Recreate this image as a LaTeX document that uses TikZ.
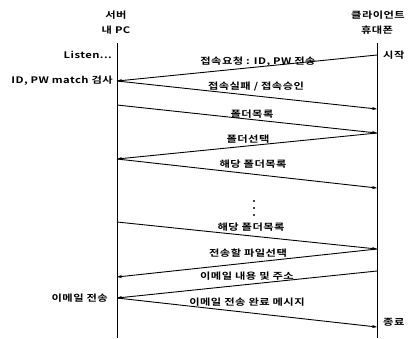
\documentclass[tikz,border=0pt]{standalone}
\usepackage{fontspec}
\setmainfont{Noto Sans CJK KR}[BoldFont={Noto Sans CJK KR Bold}]
\newfontfamily\kr{Noto Sans CJK KR Bold}[FakeStretch=1.25,LetterSpace=5]
\usetikzlibrary{arrows.meta}
\begin{document}
\begin{tikzpicture}[x=1pt,y=-1pt,
  lbl/.style={font=\kr\fontsize{9}{10}\selectfont, inner sep=0pt},
  life/.style={line width=1pt},
  msg/.style={line width=0.9pt,-{Stealth[length=5pt,width=3.2pt]}},
  dotm/.style={circle,fill=black,inner sep=0pt,minimum size=2.4pt}]
\useasboundingbox (0,0) rectangle (411,338);
% headers
\node[lbl] (srv) at (116,15) {서버};
\node[lbl] (pc) at (116,30) {내 PC};
\node[lbl] (cli) at (378,15) {클라이언트};
\node[lbl] (ph) at (377,30) {휴대폰};
% lifelines
\coordinate (L0) at (117,43);
\coordinate (L1) at (117,338);
\coordinate (R0) at (377,43);
\coordinate (R1) at (377,338);
\draw[life] (L0) -- (L1);
\draw[life] (R0) -- (R1);
% message points
\coordinate (r1) at (377,55);
\coordinate (l1) at (117,81);
\coordinate (r2) at (377,109);
\coordinate (l3) at (117,105);
\coordinate (r3) at (377,133);
\coordinate (l4) at (117,159);
\coordinate (r5) at (377,188);
\coordinate (l6) at (117,222);
\coordinate (r6) at (377,249);
\coordinate (l7) at (117,277);
\coordinate (r8) at (377,271);
\coordinate (l8) at (117,298);
\coordinate (r9) at (377,327);
\draw[msg] (r1) -- (l1);
\draw[msg] (l1) -- (r2);
\draw[msg] (l3) -- (r3);
\draw[msg] (r3) -- (l4);
\draw[msg] (l4) -- (r5);
\draw[msg] (l6) -- (r6);
\draw[msg] (r6) -- (l7);
\draw[msg] (r8) -- (l8);
\draw[msg] (l8) -- (r9);
% message labels
\node[lbl] (m1) at (258,62) {접속요청 : ID, PW 전송};
\node[lbl] (m2) at (256,87) {접속실패 / 접속승인};
\node[lbl] (m3) at (252,114) {폴더목록};
\node[lbl] (m4) at (248,139) {폴더선택};
\node[lbl] (m5) at (253,164) {해당 폴더목록};
\node[lbl] (m6) at (251,227) {해당 폴더목록};
\node[lbl] (m7) at (248,253) {전송할 파일선택};
\node[lbl] (m8) at (247,276) {이메일 내용 및 주소};
\node[lbl] (m9) at (247,302) {이메일 전송 완료 메시지};
% dots
\node[dotm] (d1) at (254,201) {};
\node[dotm] (d2) at (254,208) {};
\node[dotm] (d3) at (254,215) {};
% side labels
\node[lbl,anchor=east] (listen) at (112,55) {Listen...};
\node[lbl,anchor=east] (chk) at (113,81) {ID, PW match 검사};
\node[lbl,anchor=east] (email) at (108,298) {이메일 전송};
\node[lbl,anchor=west] (start) at (383,55) {시작};
\node[lbl,anchor=west] (end) at (383,322) {종료};
\end{tikzpicture}
\end{document}
